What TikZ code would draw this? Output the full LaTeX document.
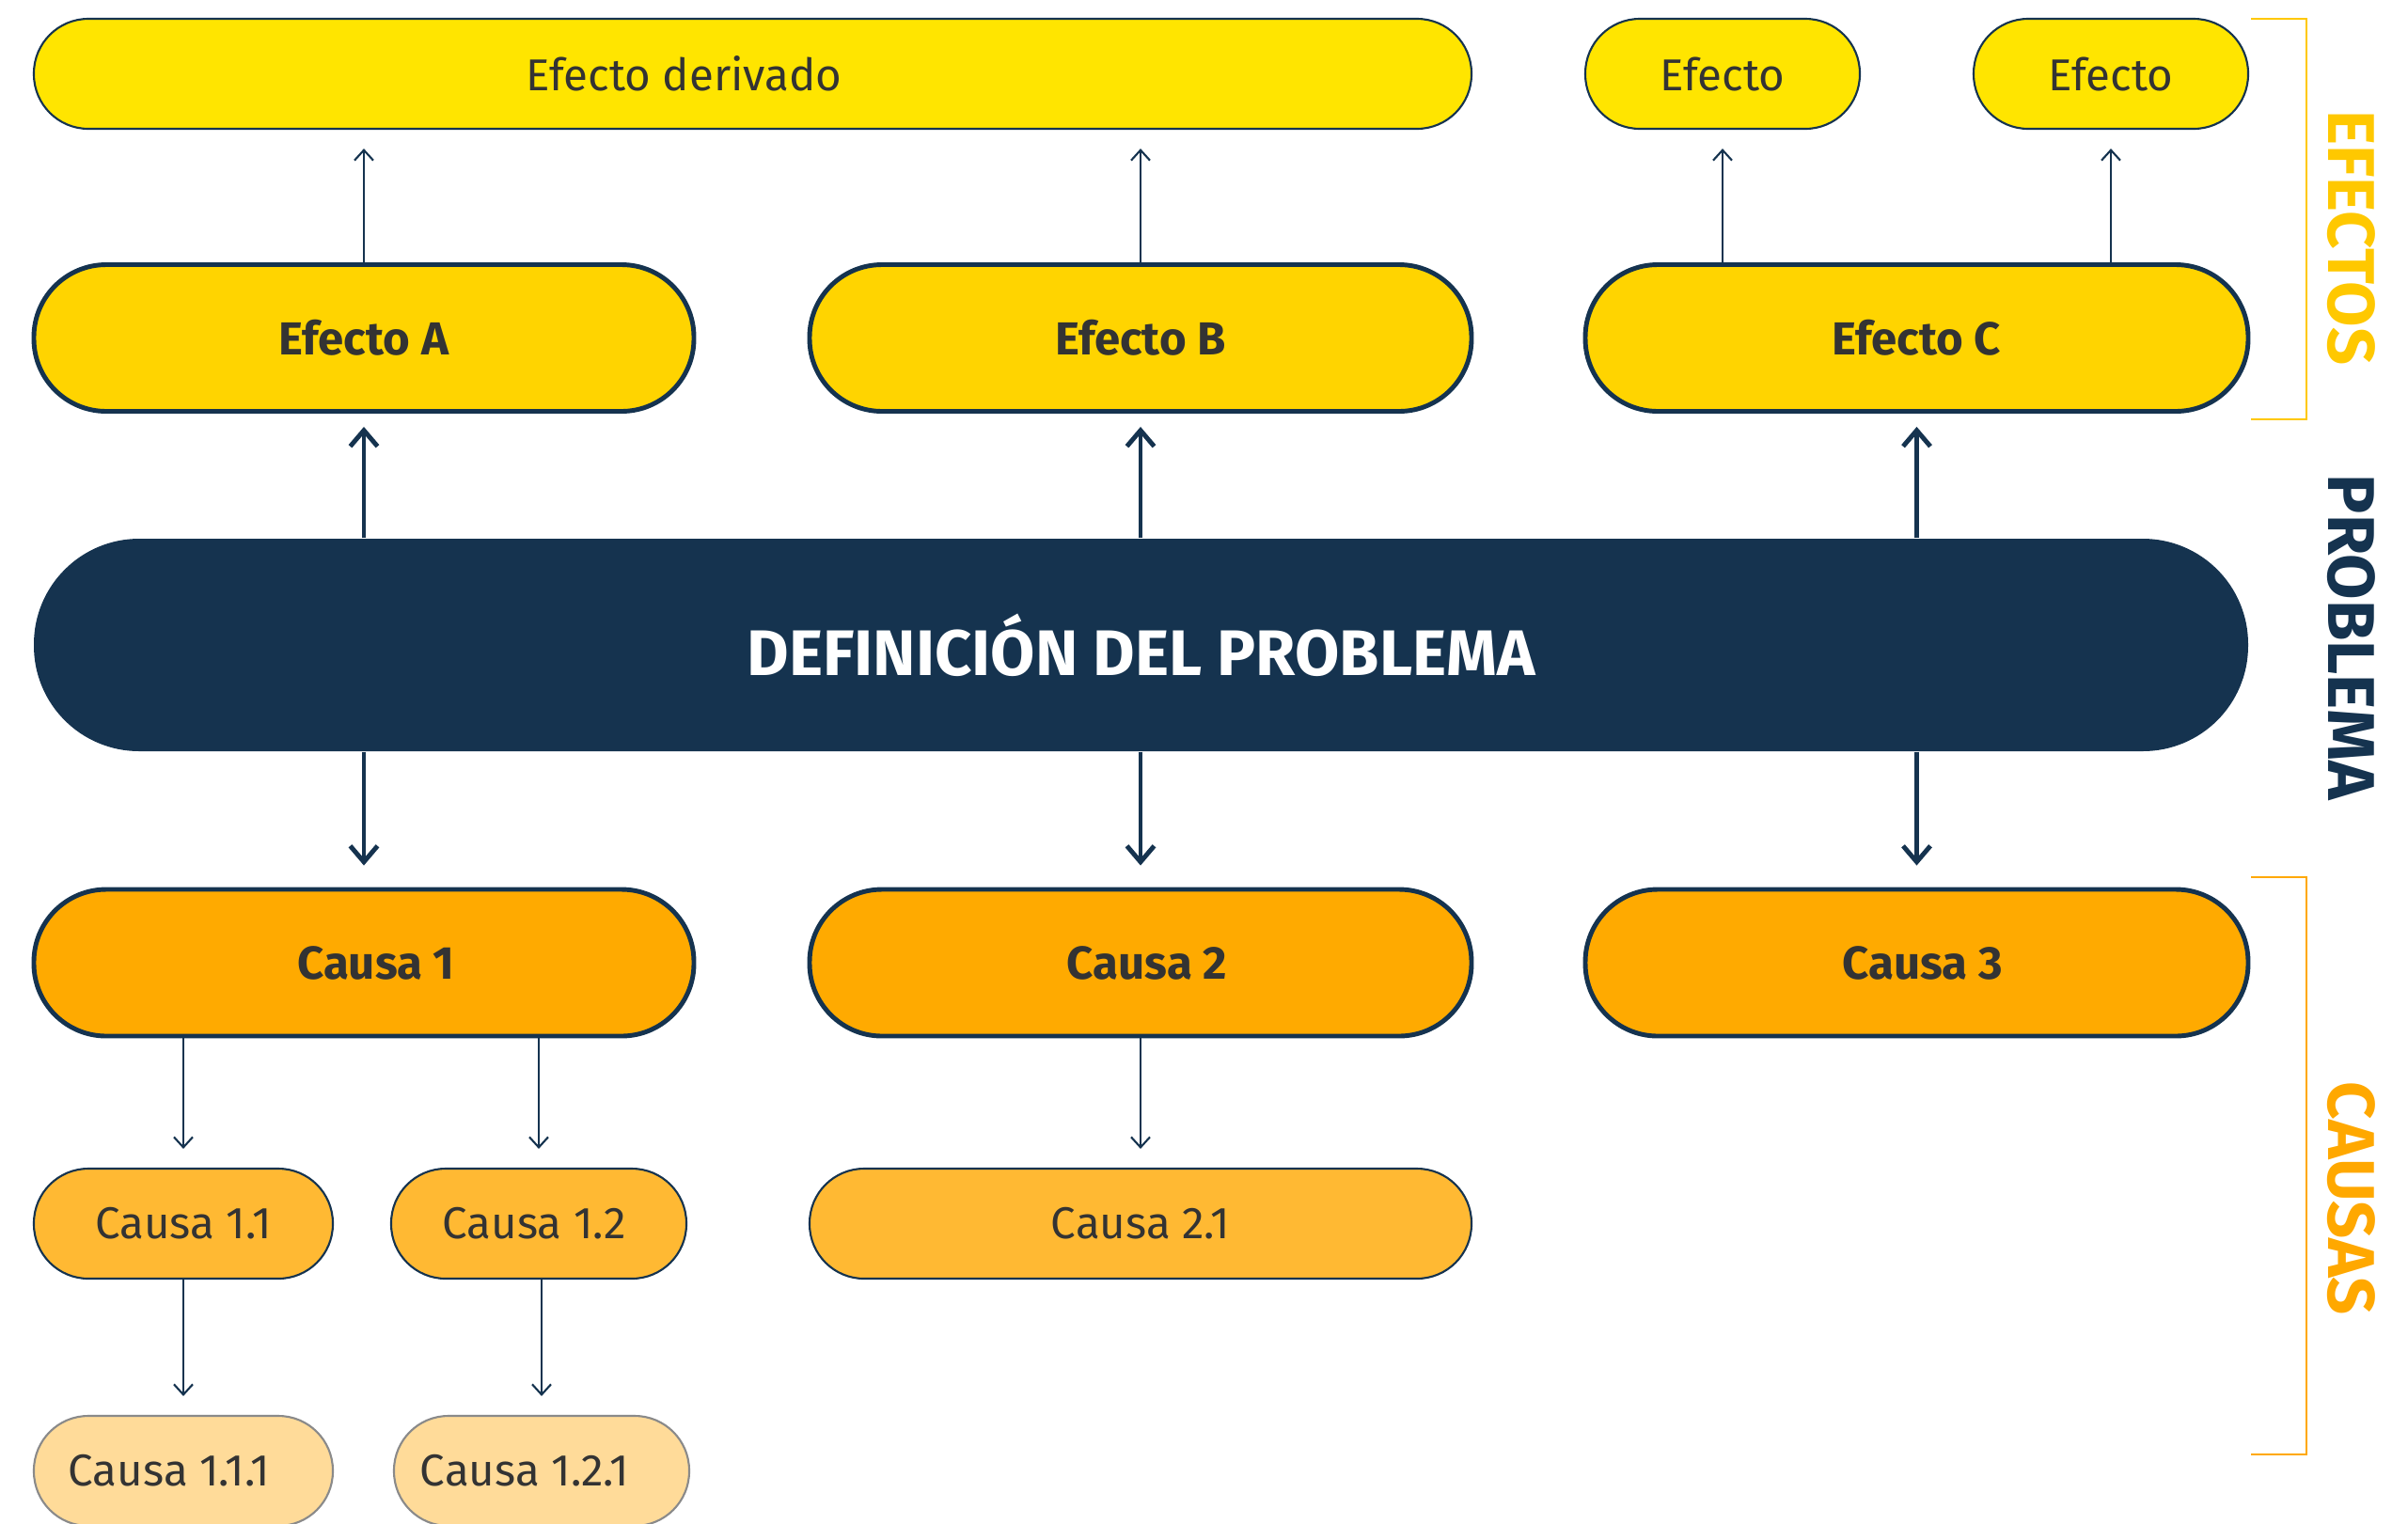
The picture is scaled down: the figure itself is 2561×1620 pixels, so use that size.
\documentclass[tikz,border=0pt]{standalone}
\usepackage{fontspec}
\setmainfont{Fira Sans}
\usetikzlibrary{arrows.meta,positioning}

\begin{document}
\begin{tikzpicture}[x=0.1mm,y=-0.1mm,font=\fontsize{13.5}{16}\selectfont,
    pill/.style={rectangle,align=center,text=TextDark,inner sep=0pt},
    effsmall/.style={pill,fill=YellowBright,draw=Navy,line width=0.6pt,minimum height=11.7mm,rounded corners=5.8mm},
    effmain/.style={pill,fill=YellowMain,draw=Navy,line width=1.4pt,minimum height=15.6mm,rounded corners=7.7mm,font=\fontsize{14}{16}\selectfont\bfseries},
    probbox/.style={pill,fill=Navy,text=white,minimum height=22.6mm,rounded corners=11.2mm,font=\fontsize{19.5}{22}\selectfont\bfseries},
    causemain/.style={effmain,fill=OrangeMain},
    causesub/.style={effsmall,fill=OrangeSub},
    causeleaf/.style={effsmall,fill=OrangeLight,draw=LeafGray},
    thinarr/.style={draw=Navy,line width=0.6pt,-{Straight Barb[length=1.1mm,width=2mm]},shorten >=2mm},
    thickarr/.style={draw=Navy,line width=1.4pt,-{Straight Barb[length=1.7mm,width=2.9mm]}},
    sidelabel/.style={rotate=-90,font=\fontsize{20}{22}\selectfont\bfseries},
    bracket/.style={line width=0.6pt}]
    %--- Theme colors ---
    \definecolor{Navy}{HTML}{15334F}         % problem box, borders, arrows
    \definecolor{TextDark}{HTML}{333333}     % box text
    \definecolor{YellowBright}{HTML}{FFE500} % derived effects
    \definecolor{YellowMain}{HTML}{FFD400}   % effects
    \definecolor{GoldSide}{HTML}{FFC800}     % EFECTOS label
    \definecolor{OrangeMain}{HTML}{FFAA00}   % causes
    \definecolor{OrangeSub}{HTML}{FFB933}    % sub causes
    \definecolor{OrangeLight}{HTML}{FFDB99}  % sub-sub causes
    \definecolor{LeafGray}{HTML}{8A8A8A}
    \definecolor{OrangeSide}{HTML}{FFA800}   % CAUSAS label

    \clip (0,0) rectangle (2561,1620);

    %--- Derived effects ---
    \node[effsmall,minimum width=152.9mm] (deriv) at (800.5,78.5) {Efecto derivado\kern14.6mm};
    \node[effsmall,minimum width=29.2mm] (efe1) at (1832,78.5) {Efecto};
    \node[effsmall,minimum width=29.2mm] (efe2) at (2245,78.5) {Efecto};

    %--- Effects ---
    \node[effmain,minimum width=70.2mm] (effA) at (387,359.5) {Efecto A};
    \node[effmain,minimum width=70.4mm] (effB) at (1213,359.5) {Efecto B};
    \node[effmain,minimum width=70.5mm] (effC) at (2038.5,359.5) {Efecto C};

    %--- Problem ---
    \node[probbox,minimum width=235.5mm] (prob) at (1213.5,686) {DEFINICIÓN DEL PROBLEMA};

    %--- Causes ---
    \node[causemain,minimum width=70.2mm] (cau1) at (387,1024) {\kern2.6mm Causa 1};
    \node[causemain,minimum width=70.4mm] (cau2) at (1213,1024) {\kern1.4mm Causa 2};
    \node[causemain,minimum width=70.5mm] (cau3) at (2038.5,1024) {\kern1.2mm Causa 3};

    \node[causesub,minimum width=31.8mm] (c11) at (195,1301.5) {Causa 1.1};
    \node[causesub,minimum width=31.4mm] (c12) at (573,1301.5) {Causa 1.2\kern1mm};
    \node[causesub,minimum width=70.4mm] (c21) at (1213,1301.5) {Causa 2.1};

    \node[causeleaf,minimum width=31.8mm] (c111) at (195,1564.5) {Causa 1.1.1\kern3mm};
    \node[causeleaf,minimum width=31.4mm] (c121) at (576,1564.5) {Causa 1.2.1\kern3.6mm};

    %--- Arrows ---
    \draw[thinarr] (effA.north) -- (effA.north |- deriv.south);
    \draw[thinarr] (effB.north) -- (effB.north |- deriv.south);
    \draw[thinarr] (efe1.south |- effC.north) -- (efe1.south);
    \draw[thinarr] (efe2.south |- effC.north) -- (efe2.south);

    \foreach \n in {effA,effB,effC}
      \draw[thickarr,shorten >=1.4mm] (prob.north -| \n.south) -- (\n.south);
    \foreach \n in {cau1,cau2,cau3}
      \draw[thickarr,shorten >=2.3mm] (prob.south -| \n.north) -- (\n.north);

    \draw[thinarr] (c11.north |- cau1.south) -- (c11.north);
    \draw[thinarr] (c12.north |- cau1.south) -- (c12.north);
    \draw[thinarr] (c21.north |- cau2.south) -- (c21.north);
    \draw[thinarr] (c111.north |- c11.south) -- (c111.north);
    \draw[thinarr] (c121.north |- c12.south) -- (c121.north);

    %--- Side brackets and labels ---
    \draw[bracket,GoldSide] (2394,20) -- (2453,20) -- (2453,446) -- (2394,446);
    \draw[bracket,OrangeSide] (2394,933) -- (2453,933) -- (2453,1547) -- (2394,1547);
    \node[sidelabel,text=GoldSide] (lblEff) at (2501,253) {EFECTOS};
    \node[sidelabel,text=Navy] (lblProb) at (2501,678) {PROBLEMA};
    \node[sidelabel,text=OrangeSide] (lblCau) at (2501,1275) {CAUSAS};
\end{tikzpicture}
\end{document}
